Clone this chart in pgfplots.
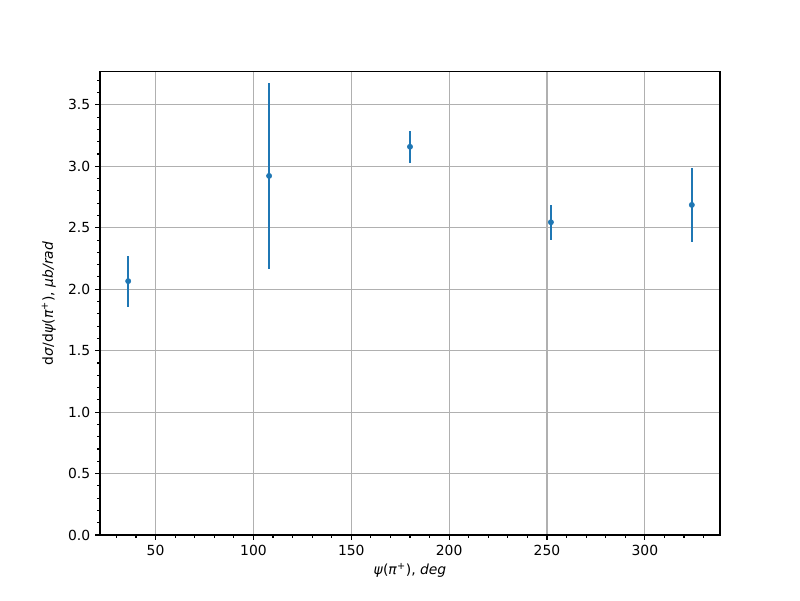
\documentclass[border=0pt]{standalone}
\usepackage{fontspec}
\setmainfont{DejaVu Sans}
\usepackage{pgfplots}
\pgfplotsset{compat=1.18}
\definecolor{mplblue}{HTML}{1F77B4}
\begin{document}
\begin{tikzpicture}
\useasboundingbox (-72pt,-46.8pt) rectangle (504pt,385.2pt);
\begin{axis}[
  at={(0,0)}, anchor=south west,
  scale only axis, width=446.4pt, height=333.4pt,
  xmin=21.6, xmax=338.4, ymin=0, ymax=3.768,
  xtick={50,100,...,300}, minor xtick={30,40,...,330},
  ytick={0,0.5,...,3.5}, minor ytick={0,0.1,...,3.7},
  yticklabel style={/pgf/number format/.cd,fixed,fixed zerofill,precision=1},
  /pgf/number format/assume math mode=true,
  tick align=outside, tick pos=left,
  major tick length=3.5pt, minor tick length=2pt,
  every tick/.style={black, line width=0.8pt},
  grid=major, major grid style={color=black!31, line width=0.8pt},
  axis line style={line width=0.8pt},
  tick label style={font=\fontsize{10}{12}\selectfont},
  label style={font=\fontsize{10}{12}\selectfont},
  xlabel={\textit{ψ}(\textit{π}\textsuperscript{+}), \textit{deg}},
  ylabel={d\textit{σ}/d\textit{ψ}(\textit{π}\textsuperscript{+}), \textit{μb/rad}},
  xlabel style={yshift=1pt},
  ylabel style={yshift=2pt},
]
\addplot[only marks, mark=*, mark size=1.9pt, color=mplblue, mark options={draw=none, fill=mplblue},
  error bars/.cd, y dir=both, y explicit, error bar style={line width=1.5pt, mplblue},
  error mark=none]
  table[x=x, y=y, y error=e] {
x y e
36 2.066 0.208
108 2.922 0.754
180 3.159 0.129
252 2.545 0.141
324 2.686 0.299
};
\end{axis}
\end{tikzpicture}
\end{document}
